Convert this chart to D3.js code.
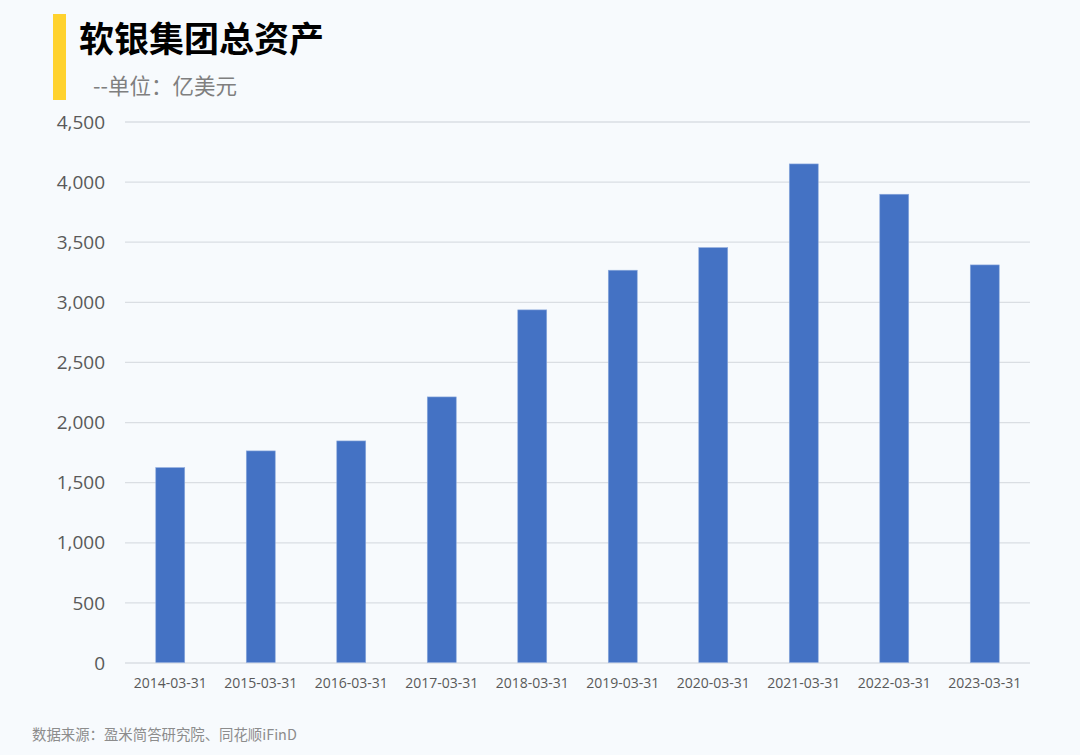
<!DOCTYPE html>
<html><head><meta charset="utf-8">
<script src="https://cdn.jsdelivr.net/npm/d3@7"></script>
<style>
html,body{margin:0;padding:0;background:#f7fafd;}
svg{display:block;}
</style></head>
<body>
<script>
const categories = ["2014-03-31","2015-03-31","2016-03-31","2017-03-31","2018-03-31","2019-03-31","2020-03-31","2021-03-31","2022-03-31","2023-03-31"];
const values = [1621, 1760, 1843, 2209, 2933, 3263, 3451, 4147, 3895, 3307];
const yTicks = [0, 500, 1000, 1500, 2000, 2500, 3000, 3500, 4000, 4500];
const title = "软银集团总资产";
const subtitle = "--单位：亿美元";
const source = "数据来源：盈米简答研究院、同花顺iFinD";

const W = 1080, H = 755;
const font = "'Noto Sans CJK SC','Noto Sans',sans-serif";
const svg = d3.select("body").append("svg").attr("width", W).attr("height", H);
svg.append("rect").attr("width", W).attr("height", H).attr("fill", "#f7fafd");

const x = d3.scaleBand().domain(categories).range([125, 1030]).paddingInner(0.68).paddingOuter(0.34);
const y = d3.scaleLinear().domain([0, 4500]).range([662.5, 121.5]);

// title
svg.append("rect").attr("x", 53).attr("y", 14).attr("width", 13).attr("height", 86).attr("fill", "#ffd22e");
svg.append("text").attr("x", 79).attr("y", 52).attr("font-family", font).attr("font-size", 35).attr("font-weight", 700).attr("fill", "#000").text(title);
svg.append("text").attr("x", 93).attr("y", 94).attr("font-family", font).attr("font-size", 21.5).attr("fill", "#7f7f7f").text(subtitle);

// grid
const grid = svg.append("g")
  .call(d3.axisLeft(y).tickValues(yTicks).tickSize(-(1030-125)).tickFormat(""))
  .attr("transform", "translate(125,0)");
grid.select(".domain").remove();
grid.selectAll("line").attr("stroke", "#dadee3").attr("stroke-width", 1.3);

// y labels
const ya = svg.append("g").attr("transform", "translate(105,0)")
  .call(d3.axisLeft(y).tickValues(yTicks).tickSize(0).tickPadding(0).tickFormat(d3.format(",")));
ya.select(".domain").remove();
ya.selectAll("text").attr("font-family", "'Open Sans','Noto Sans',sans-serif").attr("font-size", 19).attr("fill", "#595959").attr("dy", "0.35em");

// bars
svg.append("g").selectAll("rect").data(values).join("rect")
  .attr("x", (d, i) => x(categories[i]))
  .attr("width", x.bandwidth())
  .attr("y", d => y(d))
  .attr("height", d => y(0) - y(d))
  .attr("fill", "#4472c4")
  .attr("stroke", "#8fabdd").attr("stroke-width", 0.6);

// x labels
const xa = svg.append("g").attr("transform", "translate(0,662.5)")
  .call(d3.axisBottom(x).tickSize(0).tickPadding(16));
xa.select(".domain").remove();
xa.selectAll("text").attr("font-family", "'Open Sans','Noto Sans',sans-serif").attr("font-size", 14).attr("fill", "#595959");

// source
svg.append("text").attr("x", 32).attr("y", 740).attr("font-family", font).attr("font-size", 14.4).attr("fill", "#8c8c8c").text(source);
</script>
</body></html>
